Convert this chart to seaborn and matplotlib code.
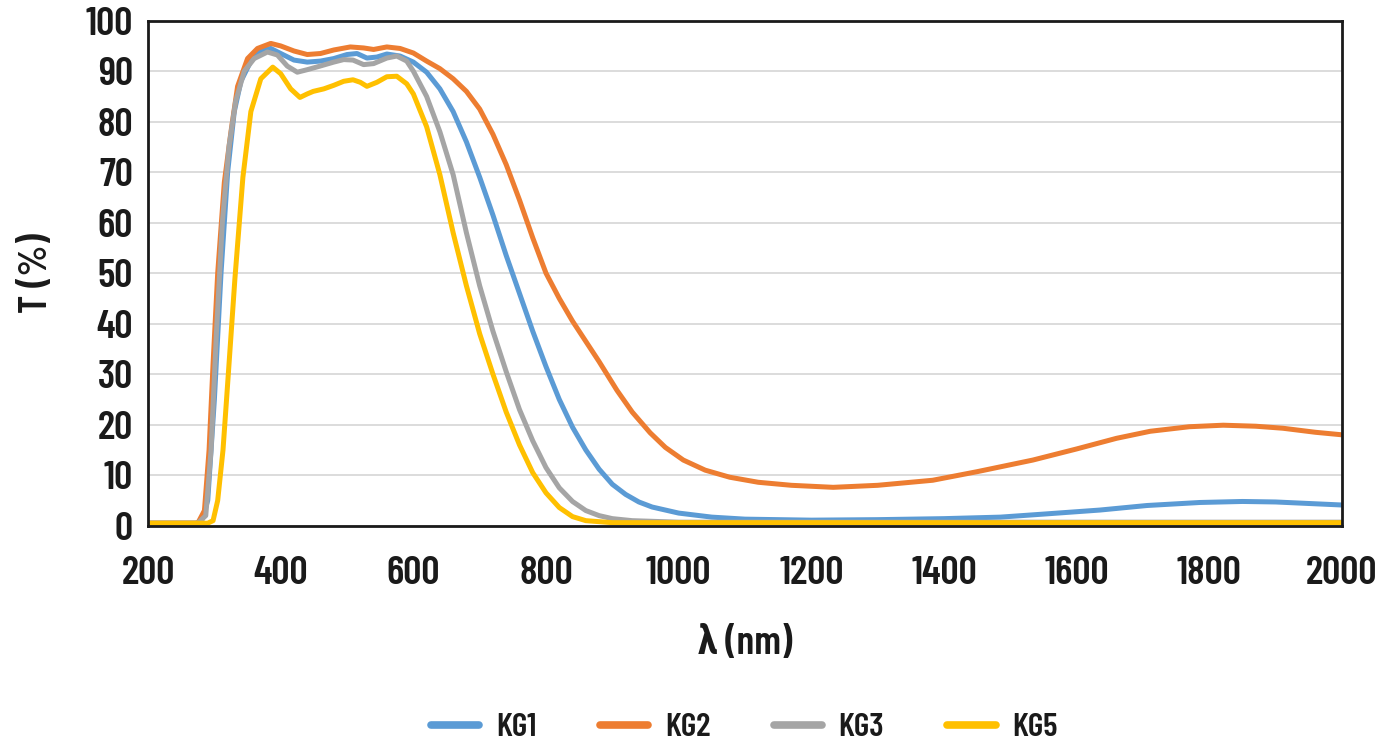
import matplotlib
matplotlib.use("Agg")
import matplotlib.pyplot as plt
import seaborn as sns
import pandas as pd

# Transmission curves of the KG heat-absorbing glasses (wavelength in nm, T in %)
kg1_nm = [200, 270, 280, 290, 300, 310, 320, 330, 340, 355, 370, 385, 400, 420, 440, 460,
          480, 500, 515, 530, 545, 560, 580, 600, 620, 640, 660, 680, 700, 720, 740, 760,
          780, 800, 820, 840, 860, 880, 900, 920, 940, 960, 1000, 1050, 1100, 1200, 1300,
          1400, 1485, 1550, 1635, 1706, 1786, 1850, 1900, 1950, 2000]
kg1_t = [0.5, 0.5, 0.6, 5, 25, 50, 70, 82, 88, 92, 94, 94.5, 93.5, 92.2, 91.8, 92,
         92.5, 93.3, 93.5, 92.6, 92.8, 93.4, 93.0, 91.8, 89.8, 86.5, 82, 76, 69, 61.5, 53.5, 46,
         38.5, 31.5, 25, 19.5, 15, 11.2, 8.2, 6.2, 4.7, 3.7, 2.5, 1.7, 1.3, 1.1, 1.2,
         1.4, 1.7, 2.3, 3.1, 4.0, 4.6, 4.8, 4.7, 4.4, 4.1]

kg2_nm = [200, 275, 285, 292, 298, 305, 315, 325, 335, 350, 365, 385, 400, 420, 440, 460,
          480, 505, 525, 540, 560, 580, 600, 620, 640, 660, 680, 700, 720, 740, 760, 780,
          800, 820, 840, 860, 880, 907, 930, 957, 980, 1007, 1040, 1077, 1120, 1170, 1233,
          1300, 1383, 1450, 1534, 1600, 1660, 1711, 1770, 1821, 1870, 1911, 1960, 2000]
kg2_t = [0.5, 0.5, 3, 15, 32, 50, 68, 78, 87, 92.5, 94.5, 95.5, 95, 94, 93.3, 93.5,
         94.2, 94.8, 94.6, 94.3, 94.8, 94.5, 93.6, 92, 90.5, 88.5, 86, 82.5, 77.5, 71.5, 64.5, 57,
         50, 45, 40.5, 36.5, 32.5, 26.8, 22.5, 18.4, 15.5, 13, 11, 9.6, 8.6, 8, 7.6,
         8, 9, 10.7, 13, 15.2, 17.3, 18.7, 19.6, 19.9, 19.7, 19.3, 18.5, 18]

kg3_nm = [200, 275, 287, 295, 303, 312, 322, 332, 345, 360, 380, 395, 410, 425, 440, 459,
          480, 495, 509, 525, 540, 560, 575, 590, 600, 620, 640, 660, 680, 700, 720, 740,
          760, 780, 800, 820, 840, 860, 880, 900, 930, 1000, 2000]
kg3_t = [0.5, 0.5, 2, 15, 38, 60, 75, 84, 90, 92.5, 93.8, 93.2, 91, 89.8, 90.3, 91,
         91.8, 92.3, 92.2, 91.3, 91.5, 92.6, 93, 92, 90, 85, 78, 69.5, 58, 47.5, 38.5, 30.5,
         23, 16.8, 11.5, 7.5, 4.8, 3, 2, 1.4, 1, 0.7, 0.7]

kg5_nm = [200, 290, 298, 305, 313, 321, 331, 343, 355, 370, 388, 400, 415, 429, 440, 449,
          465, 480, 495, 509, 520, 530, 545, 560, 575, 590, 600, 620, 640, 660, 680, 700,
          720, 740, 760, 780, 800, 820, 840, 860, 900, 2000]
kg5_t = [0.5, 0.5, 1, 5, 15, 30, 49, 69, 82, 88.5, 90.8, 89.5, 86.5, 84.8, 85.5, 86,
         86.5, 87.2, 88, 88.3, 87.8, 87, 87.8, 88.9, 89, 87.5, 85.5, 79, 69.5, 58, 47.5, 38,
         30, 22.5, 16, 10.5, 6.5, 3.6, 1.8, 1.0, 0.6, 0.6]

series_names = ["KG1", "KG2", "KG3", "KG5"]
series_colors = ["#5B9BD5", "#ED7D31", "#A5A5A5", "#FFC000"]

frames = []
for name, nm, t in zip(series_names, [kg1_nm, kg2_nm, kg3_nm, kg5_nm],
                       [kg1_t, kg2_t, kg3_t, kg5_t]):
    frames.append(pd.DataFrame({"wavelength": nm, "T": t, "glass": name}))
df = pd.concat(frames, ignore_index=True)

sns.set_theme(style="white")
plt.rcParams["font.family"] = ["Barlow Condensed", "Saira Condensed", "Oswald",
                               "Roboto Condensed", "Open Sans Condensed",
                               "IBM Plex Sans Condensed", "DejaVu Sans"]
plt.rcParams["font.weight"] = "semibold"

fig = plt.figure(figsize=(13.85, 7.44), dpi=100)
ax = fig.add_axes([0.1069, 0.2934, 0.8620, 0.6788])

sns.lineplot(data=df, x="wavelength", y="T", hue="glass", hue_order=series_names,
             palette=series_colors, estimator=None, sort=False, linewidth=3.6,
             ax=ax, legend=False)

ax.set_xlim(200, 2000)
ax.set_ylim(0, 100)
ax.set_xticks(range(200, 2001, 200))
ax.set_yticks(range(0, 101, 10))
ax.yaxis.grid(True, color="#D9D9D9", linewidth=1.3)
ax.xaxis.grid(False)
ax.set_axisbelow(True)
for sp in ax.spines.values():
    sp.set_visible(True)
    sp.set_color("#1a1a1a")
    sp.set_linewidth(2.0)

text_color = "#1a1a1a"
ax.tick_params(axis="both", which="both", length=0, labelsize=29, colors=text_color)
ax.tick_params(axis="x", pad=22)
ax.tick_params(axis="y", pad=11)
for lbl in ax.get_xticklabels() + ax.get_yticklabels():
    lbl.set_fontweight("semibold")

ax.set_xlabel("λ (nm)", fontsize=29, fontweight="semibold", color=text_color, labelpad=24)
ax.set_ylabel("T (%)", fontsize=29, fontweight="semibold", color=text_color, labelpad=22)

handles = [plt.Line2D([], [], color=c, linewidth=5.5, solid_capstyle="round") for c in series_colors]
fig.legend(handles, series_names, loc="center", bbox_to_anchor=(0.5375, 0.022), ncol=4,
           frameon=False, handlelength=1.45, handletextpad=0.5, columnspacing=1.9,
           prop={"weight": "semibold", "size": 24}, labelcolor=text_color)

fig.savefig("out.png", dpi=100, facecolor="white")
